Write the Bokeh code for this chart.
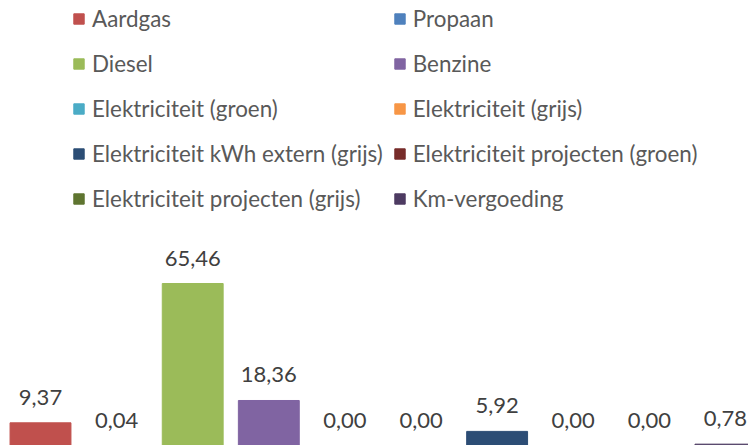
from bokeh.plotting import figure
from bokeh.models import ColumnDataSource, Legend, LegendItem, Range1d
from bokeh.core.properties import value
from bokeh.embed import file_html
from bokeh.resources import INLINE

categories = ["Aardgas", "Propaan", "Diesel", "Benzine", "Elektriciteit (groen)",
              "Elektriciteit (grijs)", "Elektriciteit kWh extern (grijs)",
              "Elektriciteit projecten (groen)", "Elektriciteit projecten (grijs)",
              "Km-vergoeding"]
values = [9.37, 0.04, 65.46, 18.36, 0.00, 0.00, 5.92, 0.00, 0.00, 0.78]
colors = ["#C0504D", "#4F81BD", "#9BBB59", "#8064A2", "#4BACC6",
          "#F79646", "#2C4D75", "#772C2A", "#5F7530", "#4D3B62"]

labels = [f"{v:.2f}".replace(".", ",") for v in values]
xs = list(range(len(categories)))

src = ColumnDataSource(dict(x=xs, top=values, color=colors, label=labels, cat=categories))

p = figure(width=748, height=445, output_backend="svg", toolbar_location=None,
           x_range=Range1d(-0.5256, 9.303), y_range=Range1d(0.24, 179.4),
           min_border=0, min_border_left=0, min_border_right=0,
           min_border_top=0, min_border_bottom=0)
p.axis.visible = False
p.xgrid.visible = False
p.ygrid.visible = False
p.outline_line_color = None
p.background_fill_color = "white"
p.border_fill_color = "white"

r = p.vbar(x="x", top="top", bottom=0, width=0.8, color="color", source=src)

p.text(x="x", y="top", text="label", source=src, text_align="center",
       text_baseline="middle", y_offset=-25.5, text_font=value("Lato"),
       text_font_size="22px", text_color="#404040")

# legend filled column-major: reorder so rows read pairwise
order = [0, 2, 4, 6, 8, 1, 3, 5, 7, 9]
items = [LegendItem(label=categories[i], renderers=[r], index=i) for i in order]
legend = Legend(items=items, ncols=2, location=(72, 229.5),
                label_text_font="Lato", label_text_font_size="22.4px",
                label_text_color="#595959", glyph_width=13, glyph_height=13,
                label_standoff=7, label_height=35, spacing=10, padding=0,
                margin=0, border_line_color=None, background_fill_alpha=0)
p.add_layout(legend, "center")

open("out.html", "w").write(file_html(p, INLINE))
